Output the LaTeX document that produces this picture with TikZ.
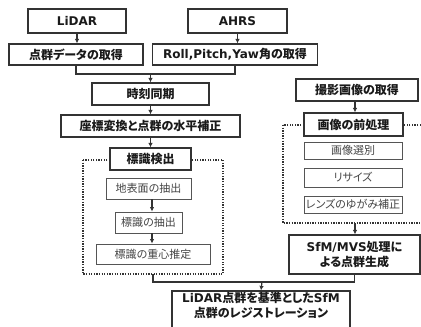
\documentclass[tikz,border=0pt]{standalone}
\usepackage{fontspec}
\setmainfont{DejaVu Sans}
\newfontfamily\jp[RawFeature=+palt]{Noto Sans CJK JP}
\usetikzlibrary{arrows.meta,backgrounds}
\definecolor{boxc}{HTML}{333333}
\definecolor{txtc}{HTML}{1A1A1A}
\definecolor{subc}{HTML}{555555}
\definecolor{subtxt}{HTML}{444444}
\tikzset{
  mainbox/.style={draw=boxc, line width=1.2pt, fill=white, text=txtc, inner sep=0pt, align=center,
    font=\bfseries\fontsize{12}{15}\selectfont},
  subbox/.style={draw=subc, line width=0.9pt, fill=white, text=subtxt, inner sep=0pt,
    font=\jp\fontsize{11}{13}\selectfont},
  plaintext/.style={text=txtc, inner sep=0pt, align=center, font=\bfseries\fontsize{12}{15}\selectfont},
  conn/.style={draw=boxc, line width=1.2pt},
  arr/.style={conn, -{Latex[length=4.5pt,width=4.5pt]}},
  frame/.style={draw=boxc, line width=1.3pt, dash pattern=on 1.3pt off 1.3pt}
}
\begin{document}
\begin{tikzpicture}[x=1pt,y=-1pt]
\useasboundingbox (0,0) rectangle (421,327);
% left column
\node[mainbox, minimum width=98, minimum height=24] (lidar) at (77,21) {LiDAR};
\node[mainbox, minimum width=99, minimum height=24] (ahrs) at (237.5,21) {AHRS};
\node[mainbox, minimum width=134, minimum height=21] (pc) at (76,54.5) {\jp 点群データの取得};
\node[mainbox, minimum width=165, minimum height=21] (rpy) at (235,54.5) {Roll,Pitch,Yaw{\jp 角の取得}};
\node[mainbox, minimum width=117, minimum height=22] (sync) at (150.5,94) {\jp 時刻同期};
\node[mainbox, minimum width=179, minimum height=22] (coord) at (150.5,126) {\jp 座標変換と点群の水平補正};
\node[mainbox, minimum width=81, minimum height=22] (detect) at (150.5,159) {\jp 標識検出};
\node[subbox, minimum width=85, minimum height=21] (ground) at (148.5,188.5) {地表面の抽出};
\node[subbox, minimum width=67, minimum height=21] (sign) at (148.5,222.5) {標識の抽出};
\node[subbox, minimum width=114, minimum height=20] (centroid) at (153,254) {標識の重心推定};
% right column
\node[mainbox, minimum width=122, minimum height=22] (photo) at (357,90) {\jp 撮影画像の取得};
\node[mainbox, minimum width=99, minimum height=23] (prep) at (353.5,124.5) {\jp 画像の前処理};
\node[subbox, minimum width=98, minimum height=17] (sel) at (353,150.5) {画像選別};
\node[subbox, minimum width=98, minimum height=19] (resize) at (353,177.5) {リサイズ};
\node[subbox, minimum width=98, minimum height=17] (lens) at (353,204.5) {レンズのゆがみ補正};
\node[mainbox, minimum width=131, minimum height=39] (sfm) at (354.5,254.5) {SfM/MVS{\jp 処理に}\\{\jp よる点群生成}};
% final
\node[mainbox, minimum width=178, minimum height=50] (final) at (261,316) {};
\node[plaintext] (finaltxt) at (261,305.5) {LiDAR{\jp 点群を基準とした}SfM\\{\jp 点群のレジストレーション}};
% frames
\coordinate (lf1) at (83,160);
\coordinate (lf2) at (223,274);
\coordinate (rf1) at (283,125);
\coordinate (rf2) at (432,223);
\begin{pgfonlayer}{background}
\draw[frame] (lf1) rectangle (lf2);
\draw[frame] (rf1) rectangle (rf2);
\end{pgfonlayer}
% connectors
\coordinate (m) at (150.5,74);
\coordinate (ax) at (152,0);
\coordinate (lfb) at (153,274);
\coordinate (rfb) at (355,223);
\coordinate (j) at (262,282);
\draw[arr] (lidar.south) -- (lidar.south |- pc.north);
\draw[arr] (ahrs.south) -- (ahrs.south |- rpy.north);
\draw[conn] (pc.south) |- (m) -| (rpy.south);
\draw[arr] (m) -- (sync.north);
\draw[arr] (sync) -- (coord);
\draw[arr] (coord) -- (detect);
\draw[arr] (ground.south -| ax) -- (sign.north -| ax);
\draw[arr] (sign.south -| ax) -- (centroid.north -| ax);
\draw[arr] (photo.south -| rfb) -- (prep.north -| rfb);
\draw[arr] (rfb) -- (sfm.north -| rfb);
\draw[conn] (lfb) |- (j) -| (sfm.south);
\draw[arr] (j) -- (final.north);
\end{tikzpicture}
\end{document}
